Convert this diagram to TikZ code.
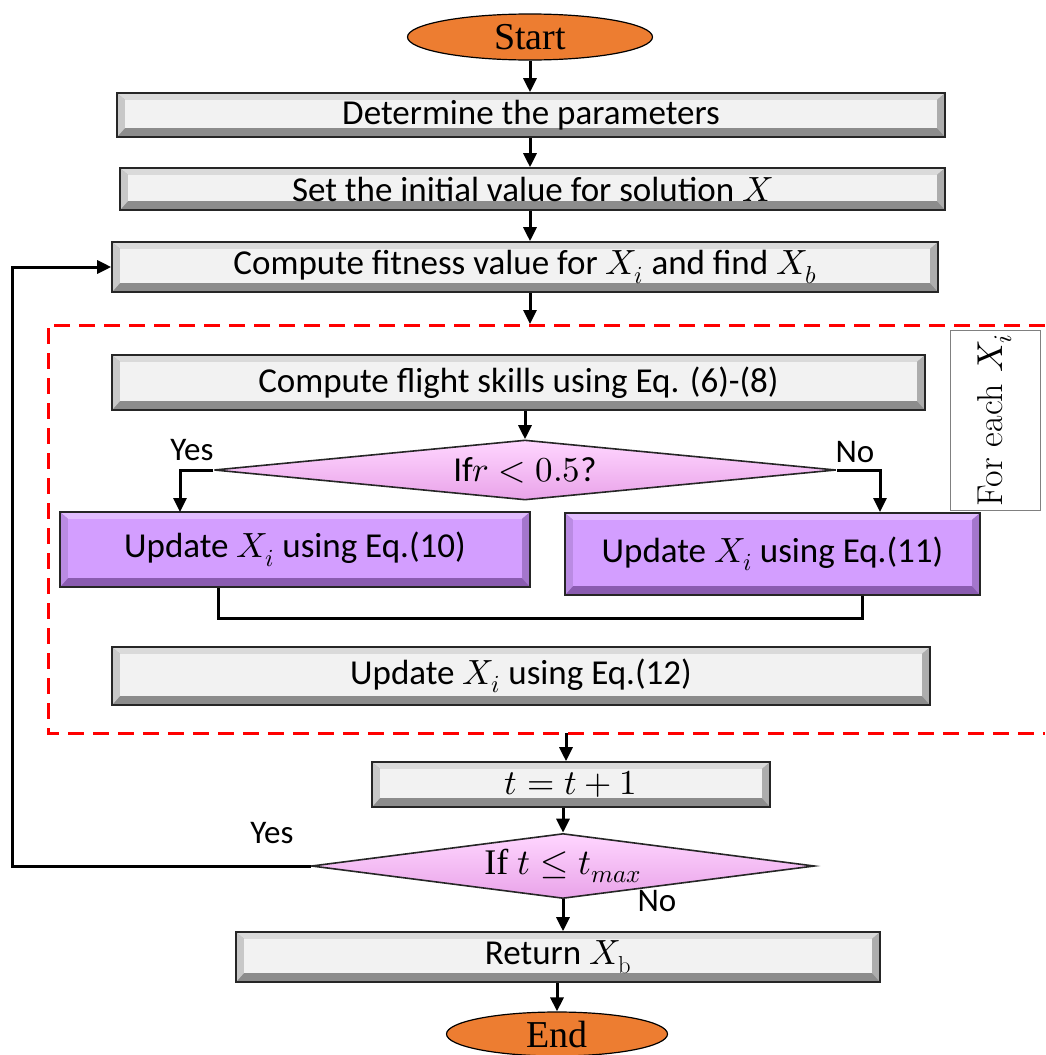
\documentclass[tikz,border=0pt]{standalone}
\usepackage{fontspec}
\usepackage{unicode-math}
\setmathfont{Latin Modern Math}
\newfontfamily\calib{Carlito}
\newfontfamily\tnr{Liberation Serif}
\usetikzlibrary{shapes.geometric,arrows.meta,calc}
\definecolor{orng}{HTML}{ED7D31}
\definecolor{facegray}{HTML}{F2F2F2}
\definecolor{topgray}{HTML}{DADADA}
\definecolor{sidegray}{HTML}{C8C8C8}
\definecolor{botgray}{HTML}{8C8C8C}
\definecolor{facepurp}{HTML}{D39EFF}
\definecolor{toppurp}{HTML}{E2BDFF}
\definecolor{sidepurp}{HTML}{BA8BE3}
\definecolor{botpurp}{HTML}{8A5CB0}
\definecolor{pinkA}{HTML}{FFD6FF}
\definecolor{pinkB}{HTML}{E9A3E9}
\tikzset{
  bev/.style n args={4}{rectangle, draw=black!85, line width=1.6pt, inner sep=0pt,
    font=\calib\fontsize{35}{40}\selectfont,
    path picture={
      \fill[#4] (path picture bounding box.south west) rectangle (path picture bounding box.north east);
      \fill[#2] (path picture bounding box.north west) -- (path picture bounding box.north east)
         -- ([shift={(-8pt,-7pt)}]path picture bounding box.north east)
         -- ([shift={(8pt,-7pt)}]path picture bounding box.north west) -- cycle;
      \fill[#3] (path picture bounding box.north west) -- ([shift={(8pt,-7pt)}]path picture bounding box.north west)
         -- ([shift={(8pt,9pt)}]path picture bounding box.south west) -- (path picture bounding box.south west) -- cycle;
      \fill[#3!55!#4] (path picture bounding box.north east) -- ([shift={(-8pt,-7pt)}]path picture bounding box.north east)
         -- ([shift={(-8pt,9pt)}]path picture bounding box.south east) -- (path picture bounding box.south east) -- cycle;
      \fill[#1] ([shift={(8pt,-7pt)}]path picture bounding box.north west) rectangle ([shift={(-8pt,9pt)}]path picture bounding box.south east);
    }},
  graybox/.style={bev={facegray}{topgray}{sidegray}{botgray}},
  purpbox/.style={bev={facepurp}{toppurp}{sidepurp}{botpurp}},
  ell/.style={ellipse, draw=black, line width=1.2pt, fill=orng, inner sep=0pt,
    font=\tnr\fontsize{38}{42}\selectfont},
  dia/.style={diamond, draw=black!85, line width=1.6pt, inner sep=0pt, aspect=8,
    top color=pinkA, bottom color=pinkB, font=\calib\fontsize{35}{40}\selectfont},
  arr/.style={line width=3pt, -{Triangle[length=14pt,width=13pt]}},
  plain/.style={line width=3pt},
  lbl/.style={font=\calib\fontsize{33}{38}\selectfont, inner sep=0pt},
  reddash/.style={draw=red, line width=3pt, dash pattern=on 16pt off 9pt}
}
\begin{document}
\begin{tikzpicture}[x=1pt,y=-1pt]
\useasboundingbox (0,0) rectangle (1045,1055);
% nodes
\node[ell, minimum width=245pt, minimum height=46pt] (start) at (530,37) {Start};
\node[graybox, minimum width=828pt, minimum height=44pt] (b1) at (531,115) {Determine the parameters};
\node[graybox, minimum width=825pt, minimum height=42pt] (b2) at (532.5,189) {Set the initial value for solution $X$};
\node[graybox, minimum width=826pt, minimum height=50pt] (b3) at (525,267) {Compute fitness value for $X_i$ and find $X_b$};
\node[graybox, minimum width=813pt, minimum height=55pt] (b4) at (518.5,382.5) {Compute flight skills using Eq. (6)-(8)};
\node[dia, minimum width=622pt, minimum height=60pt] (d1) at (525,470) {If$r<0.5$?};
\node[purpbox, minimum width=470pt, minimum height=75pt] (l1) at (295,549.5) {Update $X_i$ using Eq.(10)};
\node[purpbox, minimum width=415pt, minimum height=82pt] (r1) at (772.5,554) {Update $X_i$ using Eq.(11)};
\node[graybox, minimum width=818pt, minimum height=58pt] (b5) at (521,676) {Update $X_i$ using Eq.(12)};
\node[draw=black!50, line width=1pt, rotate=90, minimum width=180pt, minimum height=90pt, inner sep=0pt,
      font=\fontsize{36}{40}\selectfont] (fe) at (995,420) {For each $X_i$};
\node[graybox, minimum width=398pt, minimum height=45pt] (bt) at (571,784.5) {$t=t+1$};
\node[dia, minimum width=503pt, minimum height=65pt, font=\tnr\fontsize{36}{40}\selectfont] (d2) at (563,866) {If $t\le t_{max}$};
\node[graybox, minimum width=644pt, minimum height=50pt] (br) at (558,957) {Return $X_{\mathrm{b}}$};
\node[ell, minimum width=221pt, minimum height=44pt] (end) at (557,1034) {End};
% labels
\node[lbl] (y1) at (192,450) {Yes};
\node[lbl] (n1) at (855,452) {No};
\node[lbl] (y2) at (272,833) {Yes};
\node[lbl] (n2) at (657,901) {No};
% dashed frame
\coordinate (fa) at (1045,325);
\coordinate (fb) at (48,325);
\coordinate (fc) at (48,733);
\coordinate (fd) at (1045,733);
\draw[reddash] (fa) -- (fb) -- (fc) -- (fd);
% connectors
\draw[arr] (start.south) -- (start.south |- b1.north);
\draw[arr] (b1.south -| start) -- (b2.north -| start);
\draw[arr] (b2.south -| start) -- (b3.north -| start);
\coordinate (ftop) at (530,324);
\draw[arr] (b3.south -| ftop) -- (ftop);
\draw[arr] (b4.south -| d1.north) -- (d1.north);
\coordinate (ya) at (180,512);
\coordinate (na) at (880,512);
\draw[arr] (d1.west) -| (ya);
\draw[arr] (d1.east) -| (na);
\coordinate (ja) at (218,618);
\coordinate (jb) at (862,618);
\draw[plain] (ja |- l1.south) -- (ja) -- (jb) -- (jb |- r1.south);
\coordinate (dbot) at (566,733);
\draw[arr] (dbot) -- (bt.north -| dbot);
\draw[arr] (bt.south -| d2.north) -- (d2.north);
\draw[arr] (d2.south) -- (d2.south |- br.north);
\draw[arr] (br.south -| end.north) -- (end.north);
\coordinate (loopc) at (12,560);
\draw[arr] (d2.west) -| (loopc) |- (b3.west);
\end{tikzpicture}
\end{document}
